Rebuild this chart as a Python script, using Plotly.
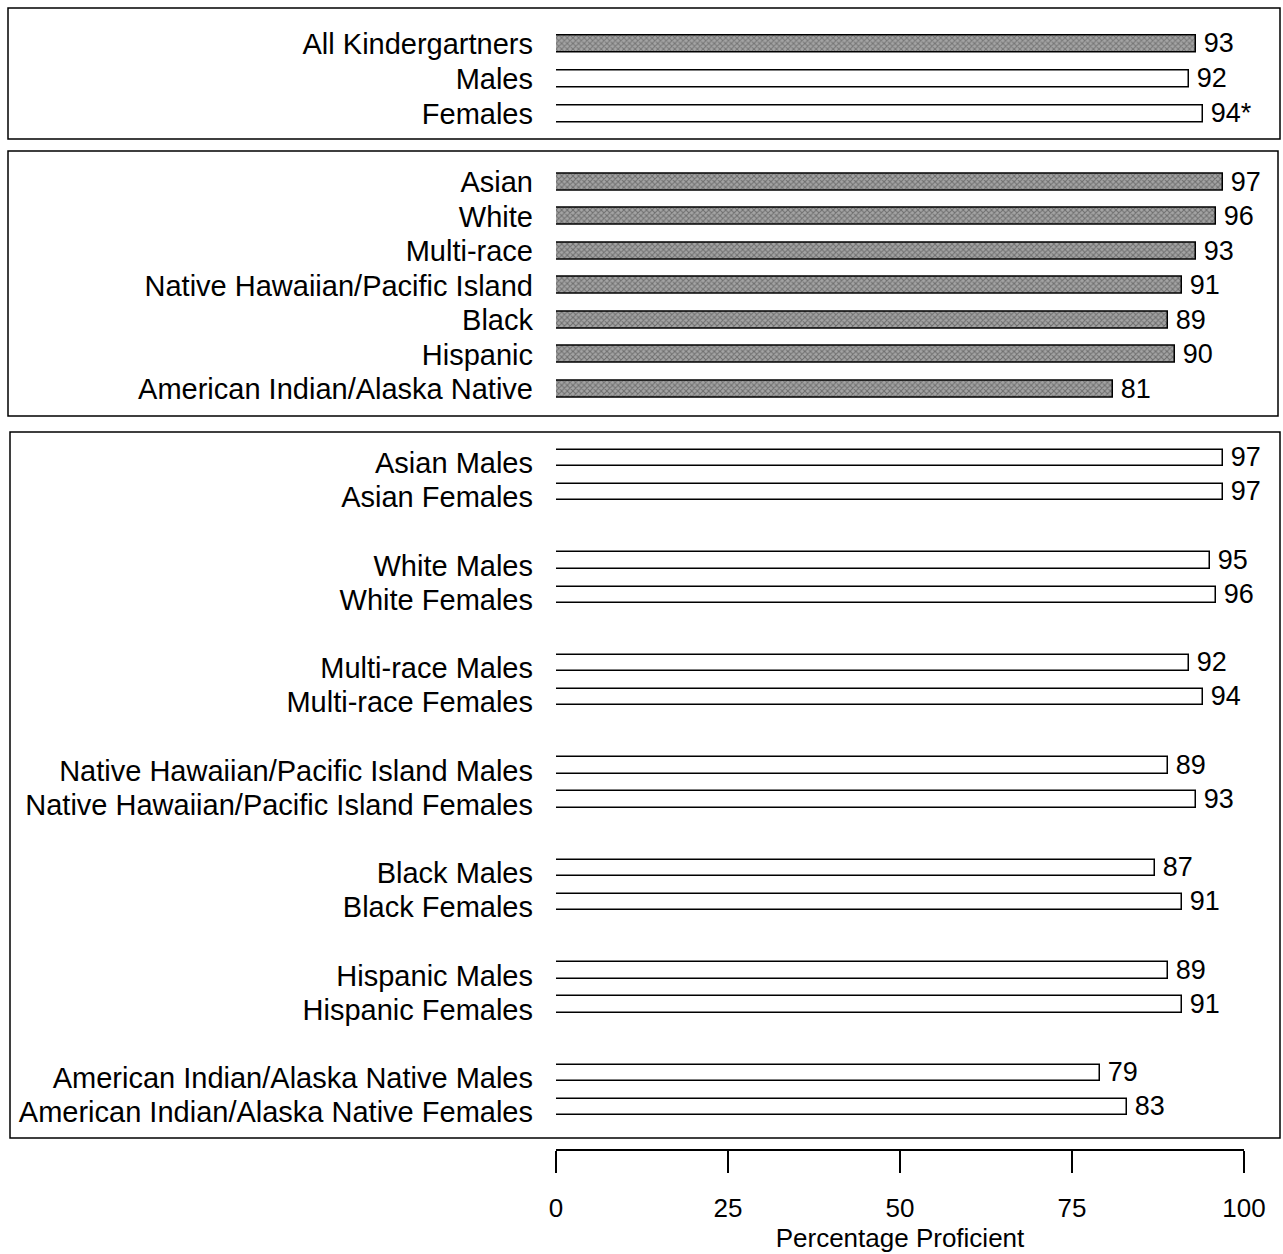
import plotly.graph_objects as go

# ---- data ----
overall_labels = ["All Kindergartners", "Males", "Females"]
overall_values = [93, 92, 94]
overall_text = ["93", "92", "94*"]
overall_textured = [True, False, False]

race_labels = ["Asian", "White", "Multi-race", "Native Hawaiian/Pacific Island",
               "Black", "Hispanic", "American Indian/Alaska Native"]
race_values = [97, 96, 93, 91, 89, 90, 81]
race_male_values = [97, 95, 92, 89, 87, 89, 79]
race_female_values = [97, 96, 94, 93, 91, 91, 83]

x_ticks = [0, 25, 50, 75, 100]
x_title = "Percentage Proficient"

# ---- layout geometry (pixels) ----
W, H = 1283, 1254
ML, MR, MT, MB = 556, 39, 0, 104
PW, PH = W - ML - MR, H - MT - MB
FONT = "Liberation Sans, Arial, Helvetica, sans-serif"
FS_LAB = 29
FS_VAL = 27
FS_AX = 26

TEX_BG = "#a4a4a4"
TEX_FG = "#383838"
GAP = "\u2009"  # small gap between bar end and value label


def px_x(p):
    return (p - ML) / PW


def px_y(p):
    return (PH - (p - MT)) / PH


texture = dict(shape="x", fgcolor=TEX_FG, bgcolor=TEX_BG, size=4, solidity=0.45)

fig = go.Figure()

val_font = dict(family=FONT, size=FS_VAL, color="black")

# group 1
pos1 = list(range(len(overall_labels)))
fig.add_trace(go.Bar(
    x=overall_values, y=pos1, orientation="h", yaxis="y",
    text=[GAP + t for t in overall_text], textposition="outside", cliponaxis=False,
    constraintext="none",
    width=0.48,
    marker=dict(color=[TEX_BG if t else "white" for t in overall_textured],
                line=dict(color="black", width=1.5),
                pattern=dict(shape=["x" if t else "" for t in overall_textured],
                             fgcolor=TEX_FG,
                             bgcolor=[TEX_BG if t else "white" for t in overall_textured],
                             size=4, solidity=0.45)),
    textfont=val_font,
    showlegend=False, hoverinfo="skip",
))

# group 2
pos2 = list(range(len(race_labels)))
fig.add_trace(go.Bar(
    x=race_values, y=pos2, orientation="h", yaxis="y2",
    text=[GAP + str(v) for v in race_values], textposition="outside", cliponaxis=False,
    constraintext="none",
    width=0.48,
    marker=dict(color=TEX_BG, line=dict(color="black", width=1.5), pattern=texture),
    textfont=val_font,
    showlegend=False, hoverinfo="skip",
))

# group 3: male/female pairs separated by a blank slot
pos3, vals3, labs3 = [], [], []
for i, r in enumerate(race_labels):
    pos3 += [3 * i, 3 * i + 1]
    vals3 += [race_male_values[i], race_female_values[i]]
    labs3 += [r + " Males", r + " Females"]
fig.add_trace(go.Bar(
    x=vals3, y=pos3, orientation="h", yaxis="y3",
    text=[GAP + str(v) for v in vals3], textposition="outside", cliponaxis=False,
    constraintext="none",
    width=0.48,
    marker=dict(color="white", line=dict(color="black", width=1.5)),
    textfont=val_font,
    showlegend=False, hoverinfo="skip",
))

yax_common = dict(autorange=False, showgrid=False, zeroline=False, showline=False,
                  ticks="", anchor="x", ticklabelstandoff=22,
                  tickfont=dict(family=FONT, size=FS_LAB, color="black"))

# pixel extents of rows in each box
n1, n2, n3 = len(pos1), len(pos2), max(pos3) + 1
d1 = (26.5, 131.5)
d2 = (164.75, 406.25)
d3 = (440.9, 1124.1)

fig.update_layout(
    width=W, height=H,
    margin=dict(l=ML, r=MR, t=MT, b=MB),
    paper_bgcolor="white", plot_bgcolor="white",
    font=dict(family=FONT, size=FS_AX, color="black"),
    bargap=0,
    xaxis=dict(range=[0, 100], tickvals=x_ticks, ticktext=[str(t) for t in x_ticks],
               showgrid=False, zeroline=False, showline=True, linecolor="black", linewidth=1.5,
               ticks="outside", ticklen=22, tickwidth=1.5, tickcolor="black",
               ticklabelstandoff=13,
               tickfont=dict(family=FONT, size=FS_AX, color="black"),
               title=dict(text=x_title, standoff=6, font=dict(family=FONT, size=FS_AX, color="black")),
               anchor="free", position=0),
    yaxis=dict(domain=[px_y(d1[1]), px_y(d1[0])], range=[n1 - 0.5, -0.5],
               tickvals=pos1, ticktext=overall_labels, **yax_common),
    yaxis2=dict(domain=[px_y(d2[1]), px_y(d2[0])], range=[n2 - 0.5, -0.5],
                tickvals=pos2, ticktext=race_labels, **yax_common),
    yaxis3=dict(domain=[px_y(d3[1]), px_y(d3[0])], range=[n3 - 0.5, -0.5],
                tickvals=pos3, ticktext=labs3, ticklabelshift=-5, **yax_common),
)

# frames around the three panels
boxes = [(8, 8, 1280, 139), (8, 151, 1278, 416), (10, 432, 1280, 1138)]
for x0, y0, x1, y1 in boxes:
    fig.add_shape(type="rect", xref="paper", yref="paper",
                  x0=px_x(x0), x1=px_x(x1), y0=px_y(y1), y1=px_y(y0),
                  line=dict(color="black", width=1.5), fillcolor="rgba(0,0,0,0)")

fig.write_html("out.html")
